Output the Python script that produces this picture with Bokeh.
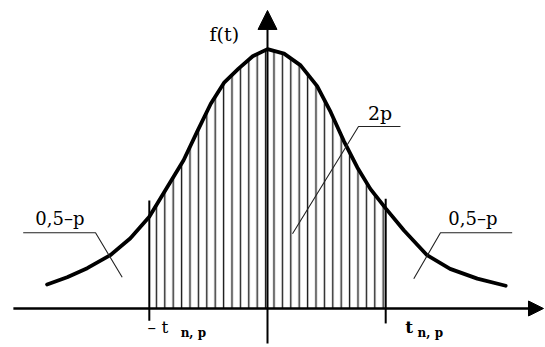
from bokeh.plotting import figure
from bokeh.models import Label, Arrow, NormalHead, Range1d
from bokeh.embed import file_html
from bokeh.resources import INLINE

# Density curve f(t) (t in units where t_np = 2)
t_vals = [-3.73, -3.39, -3.05, -2.66, -2.32, -2.00, -1.70, -1.42, -1.19, -0.96,
          -0.73, -0.49, -0.25, 0.00, 0.28, 0.56, 0.84, 1.07, 1.29, 1.52,
          1.74, 2.00, 2.31, 2.70, 3.09, 3.55, 4.03]
f_vals = [0.037, 0.048, 0.062, 0.082, 0.108, 0.141, 0.186, 0.228, 0.272, 0.315,
          0.348, 0.369, 0.388, 0.399, 0.392, 0.374, 0.342, 0.302, 0.258, 0.217,
          0.184, 0.154, 0.120, 0.082, 0.061, 0.046, 0.035]
t_np = 2.0

y_label = "f(t)"
center_label = "2p"
tail_label = "0,5\u2013p"
t_label = "t"
t_sub = "n, p"

SERIF = "DejaVu Serif"

p = figure(width=545, height=347,
           x_range=Range1d(-4.518, 4.704), y_range=Range1d(-0.060, 0.4738),
           x_axis_type=None, y_axis_type=None,
           output_backend="svg", toolbar_location=None,
           min_border=0, min_border_left=0, min_border_right=0,
           min_border_top=0, min_border_bottom=0)
p.grid.visible = False
p.outline_line_color = None
p.background_fill_color = "white"
p.border_fill_color = "white"

# hatched central area between -t_np and t_np
t_in = [t for t in t_vals if -t_np <= t <= t_np]
f_in = [f for t, f in zip(t_vals, f_vals) if -t_np <= t <= t_np]
p.varea(x=t_in, y1=[0] * len(t_in), y2=f_in, fill_alpha=0,
        hatch_pattern="vertical_line", hatch_scale=8.4, hatch_weight=1.4,
        hatch_color="#1a1a1a")

# boundaries at +-t_np
p.segment(x0=[-t_np, t_np], y0=[-0.019, -0.023], x1=[-t_np, t_np], y1=[0.166, 0.169],
          line_color="black", line_width=2)

# axes with arrows
p.add_layout(Arrow(end=NormalHead(size=15, fill_color="black", line_color="black"),
                   x_start=-4.30, y_start=0, x_end=4.67, y_end=0,
                   line_width=2.4, line_color="black"))
p.add_layout(Arrow(end=NormalHead(size=19, fill_color="black", line_color="black"),
                   x_start=0, y_start=-0.054, x_end=0, y_end=0.4585,
                   line_width=2, line_color="black"))

# curve
p.line(t_vals, f_vals, line_color="black", line_width=3.8, line_join="round",
       line_cap="round")

# leader lines
p.line([-4.134, -2.910, -2.459], [0.1165, 0.1165, 0.048], line_color="#222", line_width=1.1)
p.line([4.140, 2.927, 2.475], [0.1165, 0.1165, 0.0457], line_color="#222", line_width=1.1)
p.line([2.250, 1.540, 0.423], [0.280, 0.280, 0.115], line_color="#222", line_width=1.1)

def lab(x, y, text, size, bold=False, align="left"):
    p.add_layout(Label(x=x, y=y, text=text, text_font=SERIF, text_font_size=size,
                       text_font_style="bold" if bold else "normal",
                       text_align=align, text_baseline="alphabetic",
                       text_color="black"))

lab(-0.98, 0.423, y_label, "19px")
lab(1.70, 0.300, center_label, "19px")
lab(-3.93, 0.139, tail_label, "18px")
lab(3.06, 0.139, tail_label, "18px")
lab(-2.03, -0.029, "\u2013 " + t_label, "17px")
lab(-1.47, -0.038, t_sub, "12px", bold=True)
lab(2.33, -0.029, t_label, "17px", bold=True)
lab(2.54, -0.038, t_sub, "12px", bold=True)

open("out.html", "w").write(file_html(p, INLINE))
